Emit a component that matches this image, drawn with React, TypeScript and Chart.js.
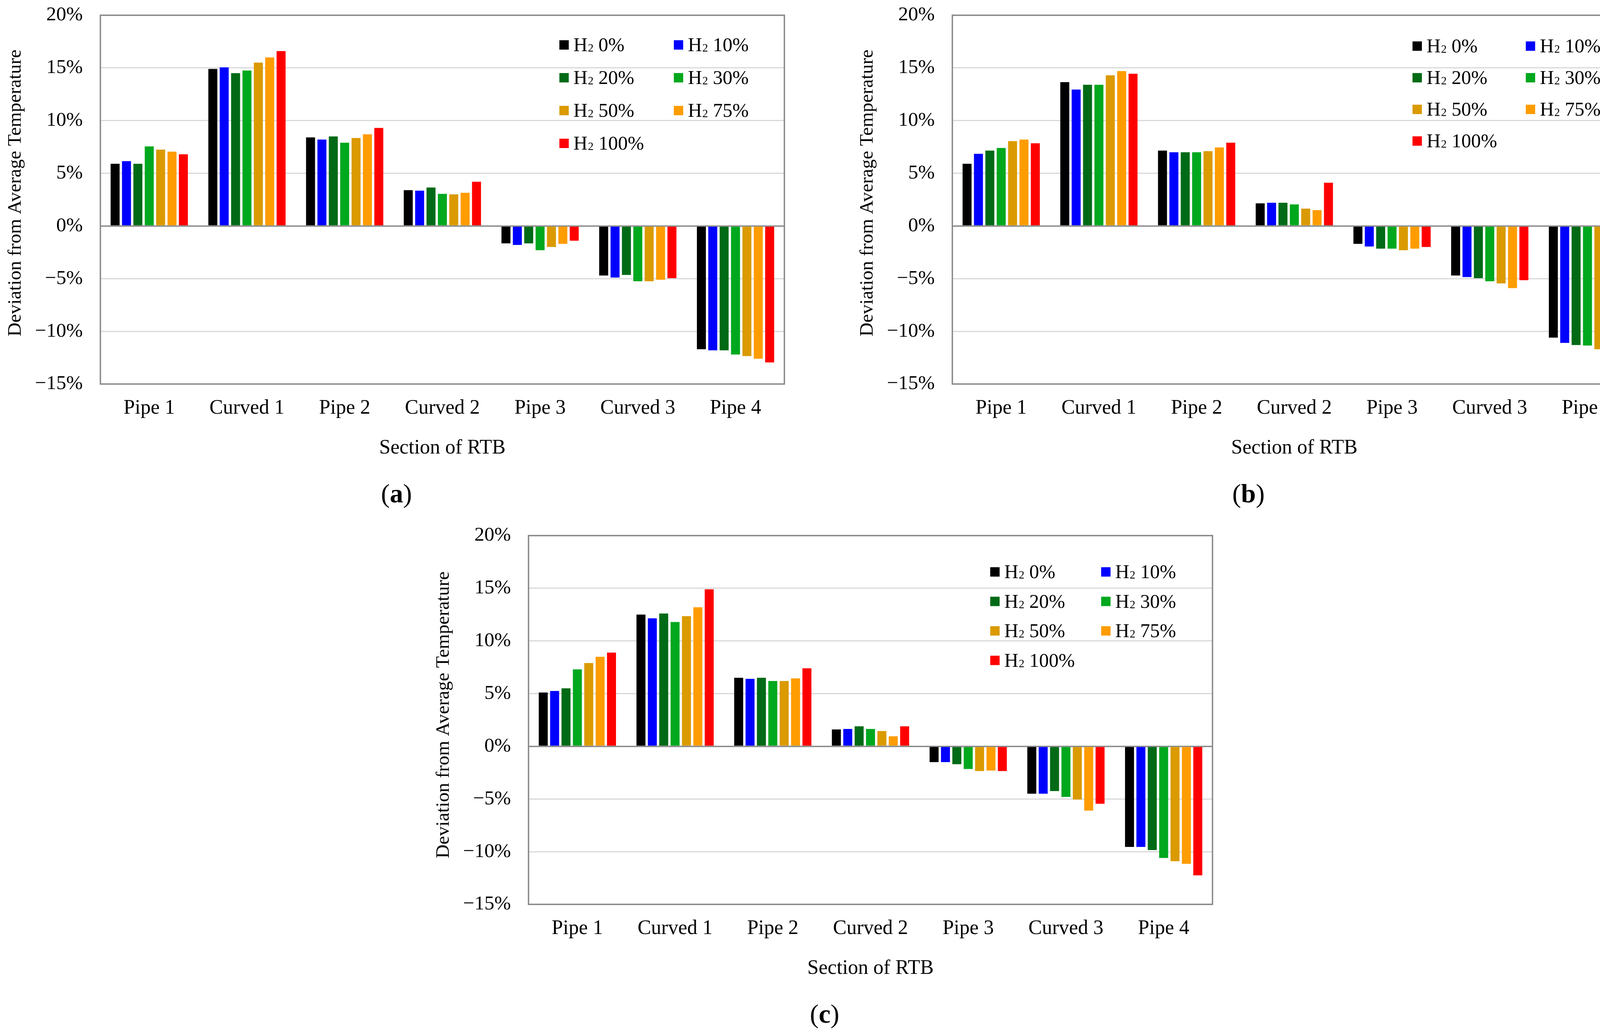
import React, { useEffect, useRef } from "react";
import { Chart, registerables } from "chart.js";

Chart.register(...registerables);

// ---------- data ----------
const CATEGORIES = ["Pipe 1", "Curved 1", "Pipe 2", "Curved 2", "Pipe 3", "Curved 3", "Pipe 4"];
const SERIES_LABELS = ["H₂ 0%", "H₂ 10%", "H₂ 20%", "H₂ 30%", "H₂ 50%", "H₂ 75%", "H₂ 100%"];
const SERIES_COLORS = ["#000000", "#0000FF", "#006A16", "#00A81E", "#DA9A00", "#FF9C00", "#FF0000"];
const Y_MIN = -15;
const Y_MAX = 20;
const Y_STEP = 5;
const Y_TITLE = "Deviation from Average Temperature";
const X_TITLE = "Section of RTB";
const PANEL_LETTERS = ["a", "b", "c"];

// panel (a)
const A_H0 = [5.9, 14.9, 8.4, 3.4, -1.65, -4.7, -11.7];
const A_H10 = [6.15, 15.05, 8.2, 3.35, -1.8, -4.9, -11.8];
const A_H20 = [5.9, 14.5, 8.5, 3.65, -1.65, -4.65, -11.8];
const A_H30 = [7.55, 14.75, 7.9, 3.05, -2.3, -5.25, -12.2];
const A_H50 = [7.25, 15.5, 8.35, 3.0, -2.0, -5.25, -12.35];
const A_H75 = [7.05, 16.0, 8.7, 3.15, -1.7, -5.1, -12.6];
const A_H100 = [6.8, 16.6, 9.3, 4.2, -1.4, -4.95, -12.95];

// panel (b)
const B_H0 = [5.9, 13.65, 7.15, 2.15, -1.7, -4.7, -10.6];
const B_H10 = [6.85, 12.95, 7.0, 2.2, -1.95, -4.85, -11.1];
const B_H20 = [7.15, 13.4, 7.0, 2.2, -2.15, -4.95, -11.3];
const B_H30 = [7.4, 13.4, 7.0, 2.05, -2.15, -5.25, -11.35];
const B_H50 = [8.05, 14.3, 7.1, 1.65, -2.3, -5.45, -11.7];
const B_H75 = [8.2, 14.7, 7.45, 1.5, -2.15, -5.9, -11.9];
const B_H100 = [7.85, 14.45, 7.9, 4.1, -2.0, -5.15, -12.35];

// panel (c)
const C_H0 = [5.1, 12.5, 6.5, 1.6, -1.5, -4.5, -9.55];
const C_H10 = [5.25, 12.15, 6.4, 1.65, -1.5, -4.5, -9.55];
const C_H20 = [5.5, 12.6, 6.5, 1.9, -1.7, -4.25, -9.85];
const C_H30 = [7.3, 11.8, 6.2, 1.65, -2.15, -4.8, -10.6];
const C_H50 = [7.9, 12.35, 6.2, 1.45, -2.35, -5.05, -10.9];
const C_H75 = [8.5, 13.2, 6.45, 0.95, -2.3, -6.1, -11.15];
const C_H100 = [8.9, 14.9, 7.4, 1.9, -2.35, -5.45, -12.25];

const PANEL_A = [A_H0, A_H10, A_H20, A_H30, A_H50, A_H75, A_H100];
const PANEL_B = [B_H0, B_H10, B_H20, B_H30, B_H50, B_H75, B_H100];
const PANEL_C = [C_H0, C_H10, C_H20, C_H30, C_H50, C_H75, C_H100];
const PANELS = [PANEL_A, PANEL_B, PANEL_C];

// ---------- layout ----------
const FONT = "'Liberation Serif', 'Times New Roman', serif";
const CANVAS_W = 2033;
const CANVAS_H = 1318;
const Y_AXIS_W = 257;
const PAD_TOP = 39;
const PAD_RIGHT = 25;
const X_AXIS_H = CANVAS_H - 983;

const PANEL_POS = [
  { left: 0, top: 0, legendX: 1175, legendY: 76, rowPitch: 84, colPitch: 293, yTitleY: 494 },
  { left: 2181, top: 0, legendX: 1178, legendY: 79, rowPitch: 81, colPitch: 290, yTitleY: 494 },
  { left: 1096, top: 1332, legendX: 1182, legendY: 93, rowPitch: 75.5, colPitch: 284, yTitleY: 498 },
];

const decorPlugin = {
  id: "decor",
  afterDraw(chart: any, _args: any, opts: any) {
    const { ctx, chartArea } = chart;
    ctx.save();
    // plot frame
    ctx.strokeStyle = "#888888";
    ctx.lineWidth = 3.5;
    ctx.strokeRect(
      chartArea.left,
      chartArea.top,
      chartArea.right - chartArea.left,
      chartArea.bottom - chartArea.top
    );
    // y-axis title
    ctx.save();
    ctx.translate(40, opts.yTitleY);
    ctx.rotate(-Math.PI / 2);
    ctx.font = `49px ${FONT}`;
    ctx.fillStyle = "#000";
    ctx.textAlign = "center";
    ctx.textBaseline = "middle";
    ctx.fillText(opts.yTitle, 0, 0);
    ctx.restore();
    // legend inside the plot
    ctx.textAlign = "left";
    ctx.textBaseline = "alphabetic";
    chart.data.datasets.forEach((ds: any, i: number) => {
      const col = i % 2;
      const row = Math.floor(i / 2);
      const x = chartArea.left + opts.legendX + col * opts.colPitch;
      const cy = chartArea.top + opts.legendY + row * opts.rowPitch;
      ctx.fillStyle = ds.backgroundColor;
      ctx.fillRect(x, cy - 12, 24, 24);
      ctx.fillStyle = "#000";
      let tx = x + 36;
      const base = cy + 16;
      const label: string = ds.label;
      if (label.startsWith("H₂")) {
        ctx.font = `50px ${FONT}`;
        ctx.fillText("H", tx, base);
        tx += ctx.measureText("H").width + 1;
        ctx.font = `29px ${FONT}`;
        ctx.fillText("2", tx, base + 1);
        tx += ctx.measureText("2").width;
        ctx.font = `50px ${FONT}`;
        ctx.fillText(label.slice(2), tx, base);
      } else {
        ctx.font = `50px ${FONT}`;
        ctx.fillText(label, tx, base);
      }
    });
    // panel caption "(a)"
    const fN = `68px ${FONT}`;
    const fB = `bold 68px ${FONT}`;
    ctx.font = fN;
    const wP = ctx.measureText("(").width;
    const wQ = ctx.measureText(")").width;
    ctx.font = fB;
    const wL = ctx.measureText(opts.letter).width;
    let cx = opts.captionX - (wP + wL + wQ) / 2;
    ctx.textBaseline = "middle";
    ctx.font = fN;
    ctx.fillText("(", cx, opts.captionY);
    cx += wP;
    ctx.font = fB;
    ctx.fillText(opts.letter, cx, opts.captionY);
    cx += wL;
    ctx.font = fN;
    ctx.fillText(")", cx, opts.captionY);
    ctx.restore();
  },
};

function fmtTick(v: number) {
  return (v < 0 ? "−" + Math.abs(v) : String(v)) + "%";
}

function makeConfig(series: number[][], idx: number): any {
  const pos = PANEL_POS[idx];
  return {
    type: "bar",
    data: {
      labels: CATEGORIES,
      datasets: series.map((d, i) => ({
        label: SERIES_LABELS[i],
        data: d,
        backgroundColor: SERIES_COLORS[i],
        borderWidth: 0,
        barPercentage: 0.79,
        categoryPercentage: 0.815,
      })),
    },
    options: {
      responsive: false,
      animation: false,
      devicePixelRatio: 1,
      layout: { padding: { left: 0, top: PAD_TOP, right: PAD_RIGHT, bottom: 0 } },
      plugins: {
        legend: { display: false },
        tooltip: { enabled: false },
        decor: {
          legendX: pos.legendX,
          legendY: pos.legendY,
          rowPitch: pos.rowPitch,
          colPitch: pos.colPitch,
          letter: PANEL_LETTERS[idx],
          captionX: 1015,
          captionY: 1268,
          yTitle: Y_TITLE,
          yTitleY: pos.yTitleY,
        },
      },
      scales: {
        x: {
          grid: { display: false, drawTicks: false },
          border: { display: false },
          ticks: {
            color: "#000",
            font: { family: FONT, size: 52 },
            padding: 31,
            autoSkip: false,
            maxRotation: 0,
          },
          title: {
            display: true,
            text: X_TITLE,
            color: "#000",
            font: { family: FONT, size: 52 },
            padding: { top: 0, bottom: CANVAS_H - 1148 - 31 },
          },
          afterFit: (s: any) => {
            s.height = X_AXIS_H;
          },
        },
        y: {
          min: Y_MIN,
          max: Y_MAX,
          grid: {
            drawTicks: true,
            tickLength: 40,
            tickColor: "rgba(0,0,0,0)",
            color: (c: any) => (c.tick && c.tick.value === 0 ? "#8a8a8a" : "#d9d9d9"),
            lineWidth: (c: any) => (c.tick && c.tick.value === 0 ? 3.5 : 3),
          },
          border: { display: false },
          ticks: {
            stepSize: Y_STEP,
            color: "#000",
            font: { family: FONT, size: 51 },
            padding: 5,
            callback: (v: any) => fmtTick(Number(v)),
          },
          afterFit: (s: any) => {
            s.width = Y_AXIS_W;
          },
        },
      },
    },
    plugins: [decorPlugin],
  };
}

export default function App() {
  const r0 = useRef<HTMLCanvasElement | null>(null);
  const r1 = useRef<HTMLCanvasElement | null>(null);
  const r2 = useRef<HTMLCanvasElement | null>(null);

  useEffect(() => {
    const refs = [r0, r1, r2];
    const charts = refs.map((r, i) => new Chart(r.current as HTMLCanvasElement, makeConfig(PANELS[i], i)));
    return () => charts.forEach((c) => c.destroy());
  }, []);

  const refs = [r0, r1, r2];
  return (
    <div
      style={{
        position: "fixed",
        left: 0,
        top: 0,
        width: 4214,
        height: 2652,
        background: "#fff",
        overflow: "hidden",
      }}
    >
      {PANEL_POS.map((p, i) => (
        <canvas
          key={i}
          ref={refs[i]}
          width={CANVAS_W}
          height={CANVAS_H}
          style={{ position: "absolute", left: p.left, top: p.top, width: CANVAS_W, height: CANVAS_H }}
        />
      ))}
    </div>
  );
}
